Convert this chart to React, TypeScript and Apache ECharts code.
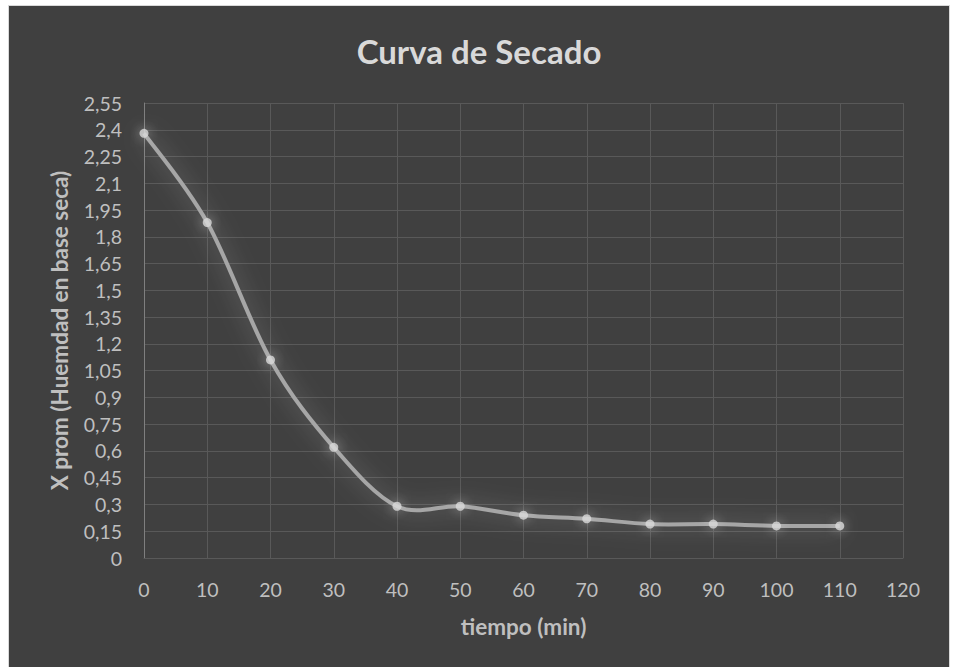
import React, { useEffect, useRef } from "react";
import * as echarts from "echarts";

// Drying curve: average moisture (dry basis) vs. time
const tiempoMin = [0, 10, 20, 30, 40, 50, 60, 70, 80, 90, 100, 110];
const xProm = [2.38, 1.88, 1.11, 0.62, 0.29, 0.29, 0.24, 0.22, 0.19, 0.19, 0.18, 0.18];

const titleText = "Curva de Secado";
const xAxisName = "tiempo (min)";
const yAxisName = "X prom (Huemdad en base seca)";

const FONT = "Lato, 'Open Sans', sans-serif";

const fmtComma = (v: number) => String(+v.toFixed(2)).replace(".", ",");

const points = tiempoMin.map((t, i) => [t, xProm[i]]);

// Catmull-Rom style cubic Bézier through pixel points (spreadsheet-like smoothing,
// free to overshoot between flat neighbours).
function smoothPath(pts: number[][]): string {
  const k = 1 / 6;
  let d = `M${pts[0][0]},${pts[0][1]}`;
  for (let i = 0; i < pts.length - 1; i++) {
    const p0 = pts[i - 1] || pts[i];
    const p1 = pts[i];
    const p2 = pts[i + 1];
    const p3 = pts[i + 2] || p2;
    const c1x = p1[0] + (p2[0] - p0[0]) * k;
    const c1y = p1[1] + (p2[1] - p0[1]) * k;
    const c2x = p2[0] - (p3[0] - p1[0]) * k;
    const c2y = p2[1] - (p3[1] - p1[1]) * k;
    d += ` C${c1x},${c1y} ${c2x},${c2y} ${p2[0]},${p2[1]}`;
  }
  return d;
}

export default function App() {
  const ref = useRef<HTMLDivElement>(null);

  useEffect(() => {
    if (!ref.current) return;
    const chart = echarts.init(ref.current, undefined, { renderer: "svg" });
    chart.setOption({
      animation: false,
      backgroundColor: "#404040",
      title: {
        text: titleText,
        left: "center",
        top: 23,
        textStyle: {
          color: "#d9d9d9",
          fontFamily: FONT,
          fontWeight: "bold",
          fontSize: 33,
        },
      },
      grid: { left: 135, right: 46, top: 97, bottom: 110 },
      xAxis: {
        type: "value",
        min: 0,
        max: 120,
        interval: 10,
        name: xAxisName,
        nameLocation: "middle",
        nameGap: 57,
        nameTextStyle: { color: "#bfbfbf", fontFamily: FONT, fontWeight: "bold", fontSize: 22.5 },
        axisLine: { show: true, lineStyle: { color: "#595959", width: 1 } },
        axisTick: { show: false },
        axisLabel: { color: "#bfbfbf", fontFamily: FONT, fontSize: 19.5, margin: 21 },
        splitLine: { show: true, lineStyle: { color: "#595959", width: 1 } },
      },
      yAxis: {
        type: "value",
        min: 0,
        max: 2.55,
        interval: 0.15,
        name: yAxisName,
        nameLocation: "middle",
        nameGap: 73,
        nameTextStyle: { color: "#bfbfbf", fontFamily: FONT, fontWeight: "bold", fontSize: 22.5 },
        axisLine: { show: true, lineStyle: { color: "#7f7f7f", width: 1 } },
        axisTick: { show: false },
        axisLabel: {
          color: "#bfbfbf",
          fontFamily: FONT,
          fontSize: 19.5,
          margin: 22,
          formatter: (v: number) => fmtComma(v),
        },
        splitLine: { show: true, lineStyle: { color: "#595959", width: 1 } },
      },
      series: [
        {
          type: "custom",
          silent: true,
          data: points,
          encode: { x: 0, y: 1 },
          renderItem: (params: any, api: any) => {
            if (params.dataIndex !== 0) return null;
            const px = points.map((p) => api.coord(p));
            return {
              type: "path",
              shape: { pathData: smoothPath(px) },
              style: {
                fill: "none",
                stroke: "#a6a6a6",
                lineWidth: 4,
                shadowBlur: 22,
                shadowColor: "rgba(255,255,255,0.38)",
              },
            };
          },
          z: 2,
        },
        {
          type: "scatter",
          data: points,
          symbol: "circle",
          symbolSize: 9,
          itemStyle: {
            color: "#d9d9d9",
            shadowBlur: 12,
            shadowColor: "rgba(255,255,255,0.6)",
          },
          z: 3,
        },
      ],
    });
    return () => chart.dispose();
  }, []);

  return (
    <div style={{ position: "fixed", left: 0, top: 0, width: 956, height: 667, background: "#ffffff" }}>
      <div
        style={{
          position: "absolute",
          left: 8,
          top: 5,
          width: 940,
          height: 662,
          border: "1px solid #d9d9d9",
          borderBottom: "none",
          background: "#404040",
        }}
      >
        <div ref={ref} style={{ width: 940, height: 662 }} />
      </div>
    </div>
  );
}
